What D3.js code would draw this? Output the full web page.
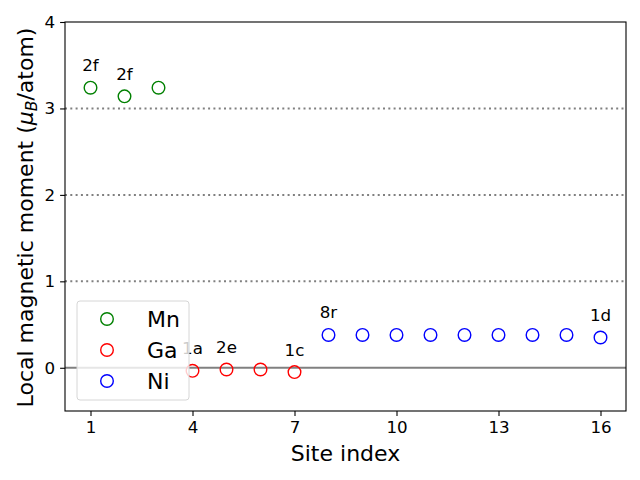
<!DOCTYPE html>
<html><head><meta charset="utf-8">
<script src="https://cdn.jsdelivr.net/npm/d3@7"></script>
<style>body{margin:0;background:#fff}svg{display:block;font-family:"DejaVu Sans",sans-serif}</style>
</head><body><svg id="c" width="640" height="480"></svg>
<script>
const mnSites = [1, 2, 3];
const mnValues = [3.24, 3.14, 3.24];
const gaSites = [4, 5, 6, 7];
const gaValues = [-0.035, -0.02, -0.02, -0.05];
const niSites = [8, 9, 10, 11, 12, 13, 14, 15, 16];
const niValues = [0.38, 0.38, 0.38, 0.38, 0.38, 0.38, 0.38, 0.38, 0.35];
const siteLabels = [
  {site: 1, value: 3.24, text: "2f"},
  {site: 2, value: 3.14, text: "2f"},
  {site: 4, value: -0.035, text: "1a"},
  {site: 5, value: -0.02, text: "2e"},
  {site: 7, value: -0.05, text: "1c"},
  {site: 8, value: 0.38, text: "8r"},
  {site: 16, value: 0.35, text: "1d"}
];
const xTicks = [1, 4, 7, 10, 13, 16];
const yTicks = [0, 1, 2, 3, 4];
const gridValues = [1, 2, 3];
const series = [
  {name: "Mn", color: "green", sites: mnSites, values: mnValues},
  {name: "Ga", color: "red", sites: gaSites, values: gaValues},
  {name: "Ni", color: "blue", sites: niSites, values: niValues}
];

const svg = d3.select("#c");
const L = 65, R = 626, T = 22, B = 411;
const x = d3.scaleLinear().domain([0.25, 16.75]).range([L, R]);
const y = d3.scaleLinear().domain([-0.5, 4]).range([B, T]);

// grid dotted lines
svg.append("g").selectAll("line").data(gridValues).join("line")
  .attr("x1", L).attr("x2", R).attr("y1", d => y(d)).attr("y2", d => y(d))
  .attr("stroke", "gray").attr("stroke-width", 2).attr("stroke-dasharray", "2,3.3");
// zero line
svg.append("line").attr("x1", L).attr("x2", R).attr("y1", y(0)).attr("y2", y(0))
  .attr("stroke", "gray").attr("stroke-width", 2);

// points
series.forEach(s => {
  svg.append("g").selectAll("circle").data(s.sites.map((d, i) => [d, s.values[i]])).join("circle")
    .attr("cx", d => x(d[0])).attr("cy", d => y(d[1])).attr("r", 6.3)
    .attr("fill", "none").attr("stroke", s.color).attr("stroke-width", 1.4);
});

// site labels
svg.append("g").selectAll("text").data(siteLabels).join("text")
  .attr("x", d => x(d.site)).attr("y", d => y(d.value) - 16.5)
  .attr("text-anchor", "middle").attr("font-size", 16.7).attr("fill", "#000")
  .text(d => d.text);

// axes
const xAxis = d3.axisBottom(x).tickValues(xTicks).tickFormat(d3.format("d")).tickSize(4.9).tickPadding(4.9).tickSizeOuter(0);
const yAxis = d3.axisLeft(y).tickValues(yTicks).tickFormat(d3.format("d")).tickSize(4.9).tickPadding(4.9).tickSizeOuter(0);
const gx = svg.append("g").attr("transform", `translate(0,${B})`).call(xAxis);
const gy = svg.append("g").attr("transform", `translate(${L},0)`).call(yAxis);
[gx, gy].forEach(g => {
  g.select(".domain").remove();
  g.selectAll(".tick line").attr("stroke", "#000").attr("stroke-width", 1.1);
  g.selectAll(".tick text").attr("font-size", 16.7).attr("font-family", "DejaVu Sans").attr("fill", "#000");
});
svg.append("rect").attr("x", L).attr("y", T).attr("width", R - L).attr("height", B - T)
  .attr("fill", "none").attr("stroke", "#000").attr("stroke-width", 1.1);

// axis labels
svg.append("text").attr("x", (L + R) / 2).attr("y", 461).attr("text-anchor", "middle")
  .attr("font-size", 22).text("Site index");
const yl = svg.append("text").attr("transform", `translate(33,${(T + B) / 2 + 1}) rotate(-90)`)
  .attr("text-anchor", "middle").attr("font-size", 22);
yl.append("tspan").text("Local magnetic moment (");
yl.append("tspan").attr("font-style", "italic").text("μ");
yl.append("tspan").attr("font-style", "italic").attr("font-size", 15.5).attr("dy", 4).text("B");
yl.append("tspan").attr("dy", -4).text("/atom)");

// legend
const lg = svg.append("g");
lg.append("rect").attr("x", 77).attr("y", 301).attr("width", 112).attr("height", 99)
  .attr("rx", 3).attr("fill", "rgba(255,255,255,0.8)").attr("stroke", "#d6d6d6").attr("stroke-width", 1);
series.forEach((s, i) => {
  const cy = 319 + i * 31;
  lg.append("circle").attr("cx", 107).attr("cy", cy).attr("r", 6.3)
    .attr("fill", "none").attr("stroke", s.color).attr("stroke-width", 1.4);
  lg.append("text").attr("x", 147).attr("y", cy).attr("dy", "0.36em")
    .attr("font-size", 22).text(s.name);
});
</script></body></html>
